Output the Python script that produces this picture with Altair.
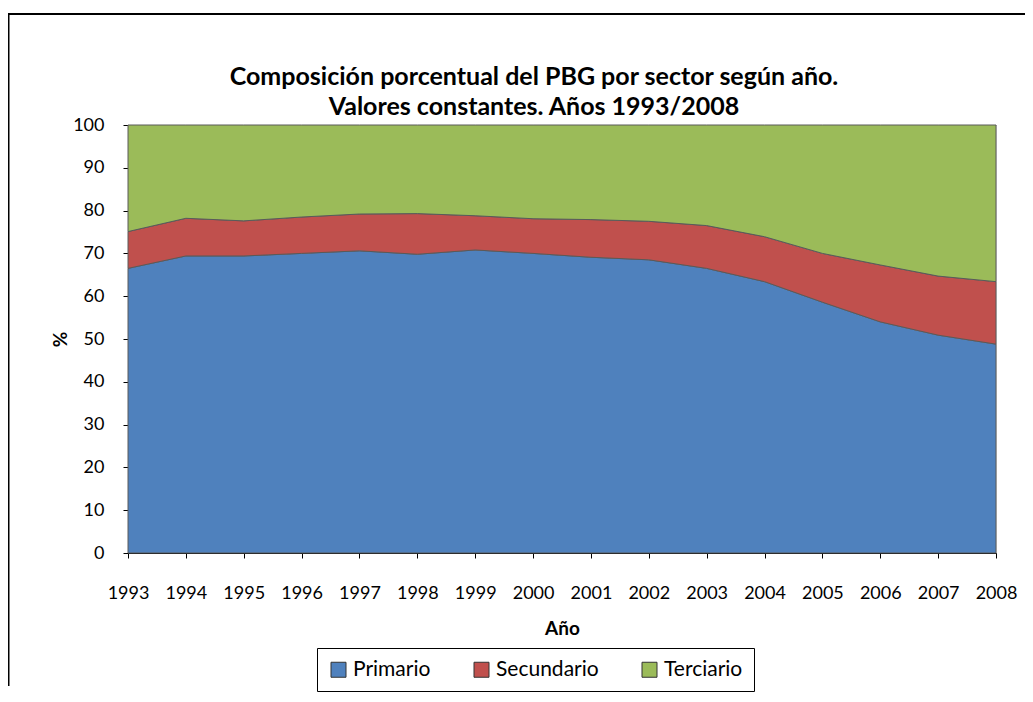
import altair as alt
import pandas as pd

years = list(range(1993, 2009))
primario = [66.5, 69.4, 69.4, 70.0, 70.6, 69.8, 70.8, 70.0, 69.1, 68.5, 66.5, 63.4, 58.6, 54.0, 50.9, 48.8]
prim_sec = [75.1, 78.2, 77.6, 78.5, 79.2, 79.3, 78.8, 78.1, 77.9, 77.5, 76.5, 73.9, 70.0, 67.3, 64.7, 63.4]
secundario = [round(b - a, 2) for a, b in zip(primario, prim_sec)]
terciario = [round(100 - b, 2) for b in prim_sec]
sectors = ["Primario", "Secundario", "Terciario"]
colors = ["#4F81BD", "#C0504D", "#9BBB59"]
title_lines = ["Composición porcentual del PBG por sector según año.",
               "Valores constantes. Años 1993/2008"]

rows = []
for i, y in enumerate(years):
    for k, (s, vals) in enumerate(zip(sectors, [primario, secundario, terciario])):
        rows.append({"Año": y, "Sector": s, "Valor": vals[i], "orden": k})
df = pd.DataFrame(rows)

FONT = "Lato"

area = alt.Chart(df).mark_area(stroke="#5a5a5a", strokeWidth=1, opacity=1).encode(
    x=alt.X("Año:Q", scale=alt.Scale(domain=[1993, 2008], nice=False, zero=False),
            axis=alt.Axis(values=years, format="d", title="Año", labelPadding=26,
                          titlePadding=17, tickSize=5, labelFlush=False)),
    y=alt.Y("Valor:Q", stack="zero", scale=alt.Scale(domain=[0, 100], nice=False),
            axis=alt.Axis(values=list(range(0, 101, 10)), title="%", tickSize=5,
                          labelPadding=19, titlePadding=2, grid=False)),
    color=alt.Color("Sector:N", scale=alt.Scale(domain=sectors, range=colors),
                    legend=alt.Legend(orient="none", legendX=189, legendY=523, direction="horizontal",
                                      title=None, symbolType="square", symbolSize=225,
                                      symbolStrokeColor="#333333", symbolStrokeWidth=1,
                                      labelFontSize=21, columnPadding=40, padding=11,
                                      labelOffset=4,
                                      strokeColor="#000000", labelFont=FONT, labelColor="#000000")),
    order=alt.Order("orden:Q", sort="ascending"),
)

frame = pd.DataFrame({"k": [0]})
top_line = alt.Chart(frame).mark_rule(color="#000000", strokeWidth=2).encode(
    x=alt.value(-120), x2=alt.value(897), y=alt.value(-111))
left_line = alt.Chart(frame).mark_rule(color="#000000", strokeWidth=2).encode(
    x=alt.value(-119.5), y=alt.value(-112), y2=alt.value(561))

title1 = alt.Chart(pd.DataFrame({"t": [title_lines[0]]})).mark_text(
    font=FONT, fontSize=25, fontWeight="bold", color="#000000", align="center", baseline="middle"
).encode(text="t:N", x=alt.value(406), y=alt.value(-48))
title2 = alt.Chart(pd.DataFrame({"t": [title_lines[1]]})).mark_text(
    font=FONT, fontSize=25, fontWeight="bold", color="#000000", align="center", baseline="middle"
).encode(text="t:N", x=alt.value(406), y=alt.value(-18))

chart = alt.layer(area, top_line, left_line, title1, title2).properties(
    width=868, height=428,
    autosize=alt.AutoSizeParams(type="none"),
    padding={"left": 120, "top": 117, "right": 29, "bottom": 141},
).configure_axis(
    labelFont=FONT, labelFontSize=18, labelColor="#000000",
    titleFont=FONT, titleFontSize=19, titleFontWeight="bold", titleColor="#000000",
    domainColor="#000000", tickColor="#000000", domainWidth=1, tickWidth=1,
).configure_view(stroke="#888888", strokeWidth=1)

chart.save("out.html", embed_options={"renderer": "svg", "actions": False})
